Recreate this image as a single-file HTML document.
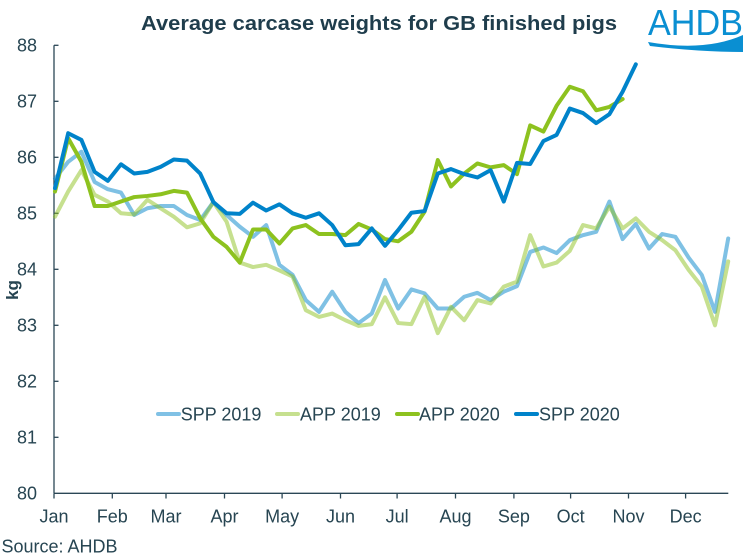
<!DOCTYPE html>
<html>
<head>
<meta charset="utf-8">
<style>
  html,body{margin:0;padding:0;background:#fff;}
  svg{display:block;}
  text{font-family:"Liberation Sans",Arial,sans-serif;}
</style>
</head>
<body>
<svg width="749" height="560" viewBox="0 0 749 560" xmlns="http://www.w3.org/2000/svg">
  <rect x="0" y="0" width="749" height="560" fill="#fff"/>

  <!-- Title -->
  <text x="141" y="30" font-size="20.5" font-weight="bold" fill="#1f3d4c" textLength="476" lengthAdjust="spacingAndGlyphs">Average carcase weights for GB finished pigs</text>

  <!-- Logo -->
  <text x="648" y="35" font-size="36" fill="#0a8fd2" textLength="95" lengthAdjust="spacingAndGlyphs">AHDB</text>
  <path d="M648,42 Q705,52 743,35 L743,52 Q700,52 650,46 Z" fill="#0a8fd2"/>

  <!-- Axes -->
  <g stroke="#2b4756" stroke-width="1.3" fill="none">
    <line x1="54" y1="45.3" x2="54" y2="493.3"/>
    <line x1="54" y1="493.3" x2="728.3" y2="493.3"/>
    <!-- y ticks -->
    <line x1="54" y1="45.3" x2="58.5" y2="45.3"/>
    <line x1="54" y1="101.3" x2="58.5" y2="101.3"/>
    <line x1="54" y1="157.3" x2="58.5" y2="157.3"/>
    <line x1="54" y1="213.3" x2="58.5" y2="213.3"/>
    <line x1="54" y1="269.3" x2="58.5" y2="269.3"/>
    <line x1="54" y1="325.3" x2="58.5" y2="325.3"/>
    <line x1="54" y1="381.3" x2="58.5" y2="381.3"/>
    <line x1="54" y1="437.3" x2="58.5" y2="437.3"/>
    <!-- x ticks -->
    <line x1="54" y1="493.3" x2="54" y2="498.5"/>
    <line x1="112.3" y1="493.3" x2="112.3" y2="498.5"/>
    <line x1="166" y1="493.3" x2="166" y2="498.5"/>
    <line x1="224.5" y1="493.3" x2="224.5" y2="498.5"/>
    <line x1="282.1" y1="493.3" x2="282.1" y2="498.5"/>
    <line x1="340.5" y1="493.3" x2="340.5" y2="498.5"/>
    <line x1="397.1" y1="493.3" x2="397.1" y2="498.5"/>
    <line x1="455.5" y1="493.3" x2="455.5" y2="498.5"/>
    <line x1="513.9" y1="493.3" x2="513.9" y2="498.5"/>
    <line x1="570.6" y1="493.3" x2="570.6" y2="498.5"/>
    <line x1="628.5" y1="493.3" x2="628.5" y2="498.5"/>
    <line x1="685.6" y1="493.3" x2="685.6" y2="498.5"/>
  </g>

  <!-- Y labels -->
  <g font-size="18" fill="#274552" text-anchor="end">
    <text x="37" y="51.6">88</text>
    <text x="37" y="107.6">87</text>
    <text x="37" y="163.6">86</text>
    <text x="37" y="219.6">85</text>
    <text x="37" y="275.6">84</text>
    <text x="37" y="331.6">83</text>
    <text x="37" y="387.6">82</text>
    <text x="37" y="443.6">81</text>
    <text x="37" y="499.6">80</text>
  </g>

  <!-- kg label -->
  <text x="0" y="0" font-size="17" font-weight="bold" fill="#274552" text-anchor="middle" transform="translate(18,290) rotate(-90)">kg</text>

  <!-- X labels -->
  <g font-size="18" fill="#274552" text-anchor="middle">
    <text x="54" y="522.7">Jan</text>
    <text x="112.3" y="522.7">Feb</text>
    <text x="166" y="522.7">Mar</text>
    <text x="224.5" y="522.7">Apr</text>
    <text x="282.1" y="522.7">May</text>
    <text x="340.5" y="522.7">Jun</text>
    <text x="397.1" y="522.7">Jul</text>
    <text x="455.5" y="522.7">Aug</text>
    <text x="513.9" y="522.7">Sep</text>
    <text x="570.6" y="522.7">Oct</text>
    <text x="628.5" y="522.7">Nov</text>
    <text x="685.6" y="522.7">Dec</text>
  </g>

  <!-- Source -->
  <text x="1.5" y="552.7" font-size="18" fill="#274552">Source: AHDB</text>

  <!-- Series: x = 55 + 13.2*i ; y = 493.3 - 56*(v-80) -->
  <g transform="matrix(13.2 0 0 -56 55 493.3)" fill="none" stroke-linejoin="round" stroke-linecap="round">
    <!-- SPP 2019 -->
    <polyline vector-effect="non-scaling-stroke" stroke="#0083ca" stroke-opacity="0.5" stroke-width="4"
      points="0,5.62 1,5.92 2,6.10 3,5.56 4,5.43 5,5.37 6,4.97 7,5.09 8,5.13 9,5.13 10,4.97 11,4.88 12,5.2 13,4.97 14,4.76 15,4.58 16,4.79 17,4.08 18,3.90 19,3.45 20,3.24 21,3.60 22,3.24 23,3.04 24,3.21 25,3.81 26,3.30 27,3.64 28,3.57 29,3.30 30,3.30 31,3.51 32,3.58 33,3.45 34,3.60 35,3.70 36,4.31 37,4.39 38,4.29 39,4.52 40,4.61 41,4.67 42,5.21 43,4.54 44,4.81 45,4.37 46,4.63 47,4.58 48,4.21 49,3.90 50,3.24 51,4.55"/>
    <!-- APP 2019 -->
    <polyline vector-effect="non-scaling-stroke" stroke="#8dc21f" stroke-opacity="0.5" stroke-width="4"
      points="0,4.94 1,5.39 2,5.77 3,5.33 4,5.21 5,5.0 6,4.98 7,5.24 8,5.09 9,4.94 10,4.75 11,4.82 12,5.2 13,4.85 14,4.12 15,4.04 16,4.08 17,3.98 18,3.87 19,3.27 20,3.15 21,3.21 22,3.09 23,2.99 24,3.02 25,3.5 26,3.04 27,3.02 28,3.51 29,2.86 30,3.33 31,3.09 32,3.45 33,3.39 34,3.69 35,3.78 36,4.61 37,4.05 38,4.12 39,4.33 40,4.79 41,4.73 42,5.12 43,4.73 44,4.91 45,4.67 46,4.52 47,4.34 48,3.99 49,3.69 50,3.0 51,4.14"/>
    <!-- APP 2020 -->
    <polyline vector-effect="non-scaling-stroke" stroke="#8dc21f" stroke-width="4"
      points="0,5.39 1,6.34 2,5.92 3,5.13 4,5.13 5,5.21 6,5.29 7,5.31 8,5.34 9,5.40 10,5.37 11,4.91 12,4.58 13,4.40 14,4.12 15,4.71 16,4.71 17,4.46 18,4.73 19,4.79 20,4.63 21,4.63 22,4.61 23,4.81 24,4.71 25,4.54 26,4.50 27,4.67 28,5.03 29,5.95 30,5.48 31,5.71 32,5.89 33,5.82 34,5.86 35,5.70 36,6.57 37,6.46 38,6.92 39,7.26 40,7.18 41,6.84 42,6.90 43,7.04"/>
    <!-- SPP 2020 -->
    <polyline vector-effect="non-scaling-stroke" stroke="#0083ca" stroke-width="4"
      points="0,5.45 1,6.43 2,6.31 3,5.74 4,5.58 5,5.875 6,5.71 7,5.74 8,5.83 9,5.96 10,5.94 11,5.71 12,5.2 13,5.0 14,4.99 15,5.19 16,5.05 17,5.16 18,5.0 19,4.92 20,5.0 21,4.79 22,4.43 23,4.45 24,4.73 25,4.42 26,4.7 27,5.01 28,5.04 29,5.71 30,5.79 31,5.70 32,5.64 33,5.77 34,5.21 35,5.90 36,5.88 37,6.29 38,6.40 39,6.87 40,6.79 41,6.61 42,6.77 43,7.17 44,7.66"/>
  </g>

  <!-- Legend -->
  <g stroke-width="4" stroke-linecap="round">
    <line x1="158" y1="414" x2="179" y2="414" stroke="#80c1e5"/>
    <line x1="277" y1="414" x2="298" y2="414" stroke="#c6e08f"/>
    <line x1="397" y1="414" x2="418" y2="414" stroke="#8dc21f"/>
    <line x1="516" y1="414" x2="537" y2="414" stroke="#0083ca"/>
  </g>
  <g font-size="18" fill="#274552">
    <text x="180.7" y="420.7">SPP 2019</text>
    <text x="300" y="420.7">APP 2019</text>
    <text x="419" y="420.7">APP 2020</text>
    <text x="539" y="420.7">SPP 2020</text>
  </g>
</svg>
</body>
</html>
